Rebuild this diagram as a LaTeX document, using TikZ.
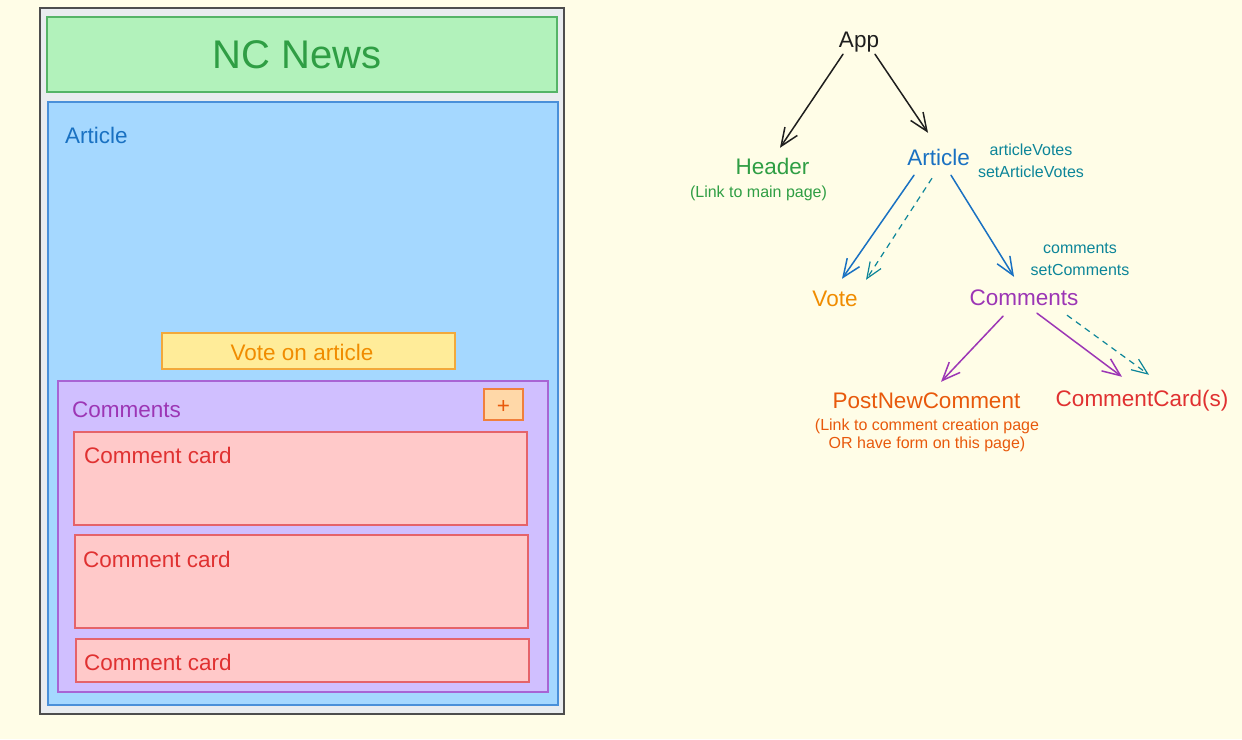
\documentclass[tikz,border=0pt]{standalone}
\usepackage{fontspec}
\setmainfont{Liberation Sans}
\usetikzlibrary{positioning,arrows.meta,calc}

\definecolor{paper}{HTML}{FFFDE7}
\definecolor{ink}{HTML}{1E1E1E}
\definecolor{frame}{HTML}{E9ECEF}
\definecolor{frameline}{HTML}{4D4D4D}
\definecolor{greenfill}{HTML}{B2F2BB}
\definecolor{greenline}{HTML}{55B467}
\definecolor{greentext}{HTML}{2F9E44}
\definecolor{bluefill}{HTML}{A5D8FF}
\definecolor{blueline}{HTML}{4A90D9}
\definecolor{bluetext}{HTML}{1971C2}
\definecolor{yellowfill}{HTML}{FFEC99}
\definecolor{yellowline}{HTML}{F2A93B}
\definecolor{orangetext}{HTML}{F08C00}
\definecolor{violetfill}{HTML}{D0BFFF}
\definecolor{violetline}{HTML}{A864D4}
\definecolor{violettext}{HTML}{9C36B5}
\definecolor{peachfill}{HTML}{FFD8A8}
\definecolor{peachline}{HTML}{F0803C}
\definecolor{rusttext}{HTML}{E8590C}
\definecolor{redfill}{HTML}{FFC9C9}
\definecolor{redline}{HTML}{E5636A}
\definecolor{redtext}{HTML}{E03131}
\definecolor{tealtext}{HTML}{0C8599}

\tikzset{
  panel/.style={line width=2pt},
  lbl/.style={anchor=base west, inner sep=0pt, font=\fontsize{22.5}{26}\selectfont},
  comp/.style={inner sep=0pt, text height=16pt, text depth=5pt, font=\fontsize{22.5}{26}\selectfont},
  note/.style={inner sep=0pt, align=center, font=\fontsize{16}{22}\selectfont},
  link/.style={->, line width=1.5pt, line cap=round},
  flow/.style={-{Straight Barb[length=16pt,width=13pt]}, line width=1.2pt, dash pattern=on 6pt off 5pt, tealtext},
}

\begin{document}
\begin{tikzpicture}[x=1pt,y=-1pt,>={Straight Barb[length=18pt,width=15pt]}]
  \fill[paper] (0,0) rectangle (1242,739);
  \useasboundingbox (0,0) rectangle (1242,739);

  % --- Page mock-up (left) ---
  \filldraw[panel, fill=frame, draw=frameline] (40,8) rectangle (564,714);
  \filldraw[panel, fill=greenfill, draw=greenline] (47,17) rectangle (557,92);
  \node[inner sep=0pt, anchor=base, greentext, font=\fontsize{40}{48}\selectfont] (title) at (297,68) {NC News};
  \filldraw[panel, fill=bluefill, draw=blueline] (48,102) rectangle (558,705);
  \node[lbl, bluetext] (articlelbl) at (65,143) {Article};
  \filldraw[panel, fill=yellowfill, draw=yellowline] (162,333) rectangle (455,369);
  \node[lbl, anchor=base, orangetext] (votelbl) at (302,360) {Vote on article};
  \filldraw[panel, fill=violetfill, draw=violetline] (58,381) rectangle (548,692);
  \node[lbl, violettext] (commentslbl) at (72,417) {Comments};
  \filldraw[panel, fill=peachfill, draw=peachline] (484,389) rectangle (523,420);
  \node[lbl, anchor=center, rusttext] (plus) at (503.5,407) {+};
  % Comment cards
  \foreach \x/\lx/\top/\bot/\base [count=\i] in {74/84/432/525/463, 75/83/535/628/567, 76/84/639/682/670} {
    \filldraw[panel, fill=redfill, draw=redline] (\x,\top) rectangle (\x+453,\bot);
    \node[lbl, redtext] (card\i) at (\lx,\base) {Comment card};
  }

  % --- Component tree (right) ---
  \node[comp, ink] (app) at (859,41.5) {App};
  \node[comp, greentext] (header) at (772.5,168.5) {Header};
  \node[note, anchor=base, greentext] (headernote) at (758.5,197) {(Link to main page)};
  \node[comp, bluetext] (article) at (938.5,159.5) {Article};
  \node[note, tealtext] (articlestate) at (1031,160.5) {articleVotes\\setArticleVotes};
  \node[comp, orangetext] (vote) at (835,300.5) {Vote};
  \node[comp, violettext] (comments) at (1024,299.5) {Comments};
  \node[note, tealtext] (commentsstate) at (1080,259.5) {comments\\setComments};
  \node[comp, rusttext] (postnew) at (926.5,402.5) {PostNewComment};
  \node[note, rusttext, font=\fontsize{16}{17.5}\selectfont] (postnote) at (927,435.5) {(Link to comment creation page\\OR have form on this page)};
  \node[comp, redtext] (cards) at (1142,400.5) {CommentCard(s)};

  % Render arrows
  \draw[link, ink] ($(app.south)+(-16,2)$) -- ($(header.north)+(7.5,-10)$);
  \draw[link, ink] ($(app.south)+(16,2)$) -- ($(article.north)+(-10.5,-16)$);
  \draw[link, bluetext] ($(article.south)+(-24.5,5)$) -- ($(vote.north)+(7,-11)$);
  \draw[link, bluetext] ($(article.south)+(12.5,5)$) -- ($(comments.north)+(-10,-12)$);
  \draw[link, violettext] ($(comments.south)+(-21,6)$) -- ($(postnew.north)+(14.5,-10)$);
  \draw[link, violettext] ($(comments.south)+(13,3)$) -- ($(cards.north)+(-20,-13)$);
  % State passed down
  \draw[flow] ($(article.south)+(-6.5,8)$) -- ($(vote.north)+(31,-10)$);
  \draw[flow] ($(comments.south)+(43,5)$) -- ($(cards.north)+(7,-15)$);
\end{tikzpicture}
\end{document}
